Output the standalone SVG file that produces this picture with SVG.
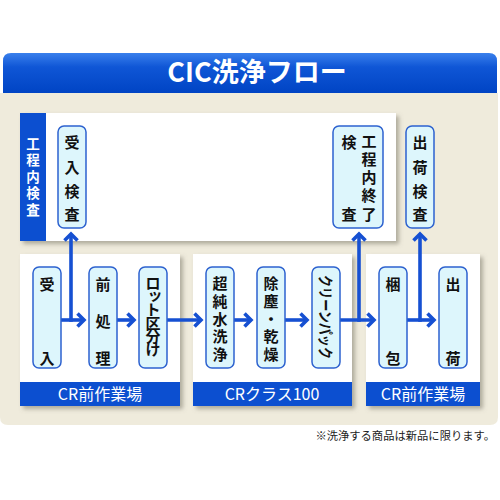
<svg xmlns="http://www.w3.org/2000/svg" width="500" height="500" viewBox="0 0 500 500">
<defs>
<linearGradient id="tg" x1="0" y1="0" x2="0" y2="1">
<stop offset="0" stop-color="#3a80ec"/>
<stop offset="0.35" stop-color="#0f56d6"/>
<stop offset="1" stop-color="#0044c4"/>
</linearGradient>
<filter id="sh" x="-10%" y="-10%" width="125%" height="130%">
<feDropShadow dx="3" dy="3" stdDeviation="2" flood-color="#7a7566" flood-opacity="0.55"/>
</filter>
<marker id="ah" markerUnits="userSpaceOnUse" markerWidth="16" markerHeight="18" refX="9" refY="9" orient="auto">
<path d="M2.5,2.5 L9,9 L2.5,15.5" fill="none" stroke="#1650d2" stroke-width="3.6" stroke-linecap="butt" stroke-linejoin="miter"/>
</marker>
<style>
.panel{fill:#ffffff;filter:url(#sh)}
.band{fill:#0c4fd0}
.node{fill:#ddf6fc;stroke:#2d62cf;stroke-width:1.5}
.t{font-family:"Noto Sans CJK JP","Noto Sans",sans-serif;font-size:15px;font-weight:bold;fill:#111;text-anchor:middle;dominant-baseline:central}
.w{font-family:"Noto Sans CJK JP","Noto Sans",sans-serif;fill:#fff;text-anchor:middle}
.ln{fill:none;stroke:#1650d2;stroke-width:3.6}
</style>
</defs>

<!-- background panels -->
<path d="M0,93 L498,93 L498,417 Q498,425 490,425 L8,425 Q0,425 0,417 Z" fill="#efebdc"/>
<path d="M3,93 L3,61 Q3,53 11,53 L489,53 Q497,53 497,61 L497,93 Z" fill="url(#tg)"/>
<text x="257" y="82" class="w" font-size="27" font-weight="bold">CIC洗浄フロー</text>

<!-- inspection panel -->
<g id="inspection-panel">
<rect x="20" y="113" width="376" height="128" class="panel"/>
<rect x="20" y="113" width="26" height="128" class="band"/>
<g class="w" font-size="13.5" font-weight="bold">
<text x="33" y="143" dominant-baseline="central">工</text>
<text x="33" y="159.4" dominant-baseline="central">程</text>
<text x="33" y="175.8" dominant-baseline="central">内</text>
<text x="33" y="192.2" dominant-baseline="central">検</text>
<text x="33" y="208.6" dominant-baseline="central">査</text>
</g>
</g>

<!-- work area panels -->
<g id="area-1">
<rect x="20" y="254" width="160" height="152" class="panel"/>
<rect x="20" y="382" width="160" height="24" class="band"/>
<text x="100" y="400" class="w" font-size="16">CR前作業場</text>
</g>
<g id="area-2">
<rect x="193" y="254" width="159" height="152" class="panel"/>
<rect x="193" y="382" width="159" height="24" class="band"/>
<text x="272" y="400" class="w" font-size="16">CRクラス100</text>
</g>
<g id="area-3">
<rect x="366" y="254" width="114" height="152" class="panel"/>
<rect x="366" y="382" width="114" height="24" class="band"/>
<text x="423" y="400" class="w" font-size="16">CR前作業場</text>
</g>

<!-- connectors -->
<g id="connectors">
<line x1="61" y1="320" x2="84" y2="320" class="ln" marker-end="url(#ah)"/>
<line x1="117" y1="320" x2="134" y2="320" class="ln" marker-end="url(#ah)"/>
<line x1="167" y1="320" x2="201" y2="320" class="ln" marker-end="url(#ah)"/>
<line x1="234" y1="320" x2="251" y2="320" class="ln" marker-end="url(#ah)"/>
<line x1="284" y1="320" x2="307" y2="320" class="ln" marker-end="url(#ah)"/>
<line x1="340" y1="320" x2="374" y2="320" class="ln" marker-end="url(#ah)"/>
<line x1="407" y1="320" x2="434" y2="320" class="ln" marker-end="url(#ah)"/>
<line x1="71" y1="321.8" x2="71" y2="234" class="ln" marker-end="url(#ah)"/>
<line x1="359" y1="321.8" x2="359" y2="234" class="ln" marker-end="url(#ah)"/>
<line x1="420" y1="321.8" x2="420" y2="234" class="ln" marker-end="url(#ah)"/>
</g>

<!-- inspection nodes -->
<g id="n-ukeire-kensa">
<rect x="58" y="126" width="28" height="102" rx="6" class="node"/>
<text x="72" y="141.7" class="t">受</text>
<text x="72" y="166" class="t">入</text>
<text x="72" y="190" class="t">検</text>
<text x="72" y="213" class="t">査</text>
</g>
<g id="n-koteinai-shuryo-kensa">
<rect x="333" y="126" width="50" height="102" rx="6" class="node"/>
<text x="369" y="140" class="t">工</text>
<text x="369" y="158" class="t">程</text>
<text x="369" y="176" class="t">内</text>
<text x="369" y="194.5" class="t">終</text>
<text x="369" y="213" class="t">了</text>
<text x="349" y="141.7" class="t">検</text>
<text x="349" y="213" class="t">査</text>
</g>
<g id="n-shukka-kensa">
<rect x="406" y="126" width="28" height="102" rx="6" class="node"/>
<text x="420" y="141.7" class="t">出</text>
<text x="420" y="166" class="t">荷</text>
<text x="420" y="190" class="t">検</text>
<text x="420" y="213" class="t">査</text>
</g>

<!-- process nodes -->
<g id="n-ukeire">
<rect x="33" y="267" width="28" height="101" rx="6" class="node"/>
<text x="47" y="283" class="t">受</text>
<text x="47" y="357" class="t">入</text>
</g>
<g id="n-maeshori">
<rect x="89" y="267" width="28" height="101" rx="6" class="node"/>
<text x="103" y="283" class="t">前</text>
<text x="103" y="320" class="t">処</text>
<text x="103" y="357" class="t">理</text>
</g>
<g id="n-lot">
<rect x="139" y="267" width="28" height="101" rx="6" class="node"/>
<text x="153" y="282" class="t" font-size="13">ロ</text>
<text x="155" y="293.8" class="t" font-size="13">ッ</text>
<text x="153" y="308.6" class="t" font-size="13">ト</text>
<text x="153" y="322" class="t" font-size="13">区</text>
<text x="153" y="335.3" class="t" font-size="13">分</text>
<text x="153" y="348.6" class="t" font-size="13">け</text>
</g>
<g id="n-chojunsui">
<rect x="206" y="267" width="28" height="101" rx="6" class="node"/>
<text x="220" y="282" class="t">超</text>
<text x="220" y="300" class="t">純</text>
<text x="220" y="318" class="t">水</text>
<text x="220" y="335.5" class="t">洗</text>
<text x="220" y="353" class="t">浄</text>
</g>
<g id="n-jojin">
<rect x="257" y="267" width="28" height="101" rx="6" class="node"/>
<text x="271" y="282" class="t">除</text>
<text x="271" y="300" class="t">塵</text>
<text x="271" y="318" class="t">・</text>
<text x="271" y="335.5" class="t">乾</text>
<text x="271" y="353" class="t">燥</text>
</g>
<g id="n-cleanpack">
<rect x="312" y="267" width="28" height="101" rx="6" class="node"/>
<text x="326" y="317" class="t" font-size="14" textLength="84" lengthAdjust="spacingAndGlyphs" transform="rotate(90 326 317)">クリーンパック</text>
</g>
<g id="n-konpo">
<rect x="379" y="267" width="28" height="101" rx="6" class="node"/>
<text x="393" y="283" class="t">梱</text>
<text x="393" y="357" class="t">包</text>
</g>
<g id="n-shukka">
<rect x="439" y="267" width="28" height="101" rx="6" class="node"/>
<text x="453" y="283" class="t">出</text>
<text x="453" y="357" class="t">荷</text>
</g>

<text x="495" y="440" font-family="Noto Sans CJK JP, sans-serif" font-size="11.3" fill="#222" text-anchor="end">※洗浄する商品は新品に限ります。</text>
</svg>
